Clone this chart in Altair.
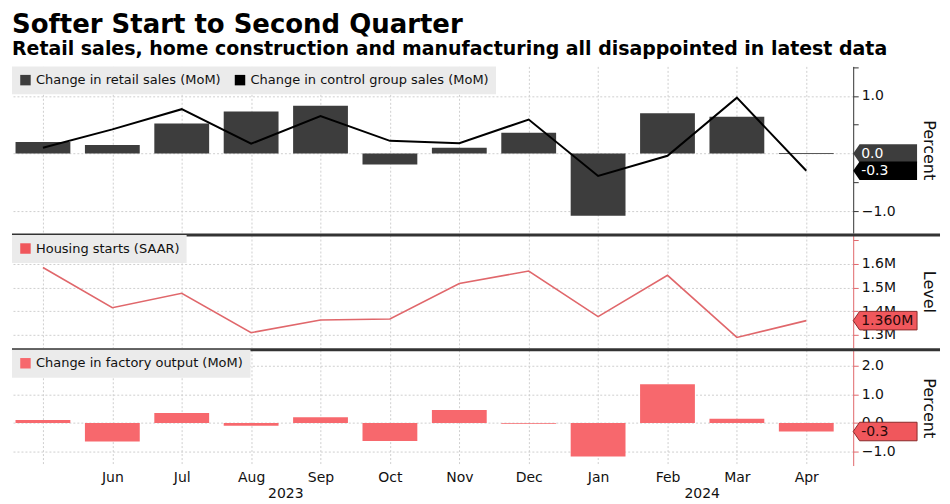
import altair as alt
import pandas as pd

# ---------------- data ----------------
months = ["May", "Jun", "Jul", "Aug", "Sep", "Oct", "Nov", "Dec", "Jan", "Feb", "Mar", "Apr"]
years = ["2023"] * 8 + ["2024"] * 4
retail_sales = [0.2, 0.15, 0.52, 0.73, 0.83, -0.19, 0.1, 0.36, -1.08, 0.7, 0.64, 0.0]
control_group = [0.1, 0.42, 0.77, 0.17, 0.65, 0.22, 0.18, 0.59, -0.39, -0.04, 0.97, -0.3]
housing_starts = [1.585, 1.415, 1.476, 1.309, 1.363, 1.367, 1.517, 1.570, 1.377, 1.552, 1.289, 1.360]
factory_output = [0.1, -0.65, 0.35, -0.1, 0.2, -0.63, 0.45, -0.03, -1.17, 1.35, 0.15, -0.3]

S_RETAIL = "Change in retail sales (MoM)"
S_CONTROL = "Change in control group sales (MoM)"
S_HOUSING = "Housing starts (SAAR)"
S_FACTORY = "Change in factory output (MoM)"

TITLE = "Softer Start to Second Quarter"
SUBTITLE = "Retail sales, home construction and manufacturing all disappointed in latest data"

idx = list(range(len(months)))

retail_df = pd.DataFrame({"i": idx, "value": retail_sales, "series": S_RETAIL})
control_df = pd.DataFrame({"i": idx, "value": control_group, "series": S_CONTROL})
housing_df = pd.DataFrame({"i": idx, "value": housing_starts, "series": S_HOUSING})
factory_df = pd.DataFrame({"i": idx, "value": factory_output, "series": S_FACTORY})

year_df = (pd.DataFrame({"i": idx, "year": years})
           .groupby("year", as_index=False)["i"].mean())


def last_label(values, fmt):
    v = values[-1]
    return pd.DataFrame({"value": [v], "label": [fmt.format(v)]})


# ---------------- style ----------------
FONT = "DejaVu Sans"
W = 843
H_TOP, H_MID, H_BOT = 167, 113, 116
GRID = "#cfcfcf"
DARK = "#3d3d3d"
RED_LINE = "#e0676b"
RED_BAR = "#f7686d"
RED_BOX = "#f0575c"
HALF = 0.395

xscale = alt.Scale(domain=[-0.446, 11.676], nice=False, zero=False)
x_axis_hidden = alt.Axis(values=idx, labels=False, ticks=False, domain=False, grid=True,
                         gridColor=GRID, gridDash=[2, 2], title=None)
label_expr = "datum.value == 0 ? '' : " + str(months) + "[datum.value]"
x_axis_bottom = alt.Axis(values=idx, labelExpr=label_expr, ticks=False, tickSize=0, domain=False,
                         grid=True, gridColor=GRID, gridDash=[2, 2], title=None,
                         labelPadding=5, labelFontSize=14, labelFont=FONT, labelColor="#111")


def legend(**kw):
    return alt.Legend(orient="top-left", direction="horizontal", title=None, fillColor="#ebebeb",
                      padding=7, offset=0, symbolType="square", symbolSize=110, symbolStrokeWidth=0,
                      labelFontSize=13, labelFont=FONT, labelColor="#111", labelLimit=600,
                      columnPadding=12, **kw)


def yaxis(values, label_expr, grid_test, title, color, height):
    return alt.Axis(orient="right", values=values, labelExpr=label_expr,
                    gridOpacity={"condition": {"test": grid_test, "value": 1}, "value": 0},
                    grid=True, gridColor=GRID, gridDash=[2, 2],
                    domainColor=color, tickColor=color, tickSize=5, domainWidth=1,
                    labelFont=FONT, labelFontSize=14, labelColor="#111", labelPadding=3,
                    title=title, titleFont=FONT, titleFontSize=16, titleFontWeight="normal",
                    titleColor="#111", titleAngle=90, titleX=75.5, titleY=height / 2,
                    titleAlign="center", titleBaseline="middle")


BOX_SHAPE = "M-1,0 L-0.8,-0.29 L1,-0.29 L1,0.29 L-0.8,0.29 Z"
BOX_SIZE = 4096
BOX_X = W + 32
TEXT_X = W + 8


def value_box(df, yenc, fill, text_color, stroke=None):
    kw = {"stroke": stroke, "strokeWidth": 1} if stroke else {"strokeWidth": 0}
    box = alt.Chart(df).mark_point(shape=BOX_SHAPE, size=BOX_SIZE, filled=True, fill=fill,
                                   opacity=1, clip=False, **kw).encode(
        x=alt.value(BOX_X), y=yenc)
    txt = alt.Chart(df).mark_text(align="left", baseline="middle", font=FONT, fontSize=14,
                                  color=text_color, clip=False).encode(
        x=alt.value(TEXT_X), y=yenc, text="label:N")
    return box + txt


def separator():
    return alt.Chart(pd.DataFrame({"a": [1]})).mark_rule(color="#333333", strokeWidth=3,
                                                          clip=False).encode(
        x=alt.value(0), x2=alt.value(930), y=alt.value(0))


# ---------------- top panel ----------------
top_y_scale = alt.Scale(domain=[-1.381, 1.513], nice=False, zero=False)
top_y_axis = yaxis([-1, -0.5, 0, 0.5, 1, 1.5],
                   "abs(datum.value) == 1 ? format(datum.value, '.1f') : ''",
                   "abs(datum.value) == 1 || datum.value == 0", "Percent", "#333333", H_TOP)
top_y = alt.Y("value:Q", scale=top_y_scale, axis=top_y_axis)
top_color = alt.Color("series:N", scale=alt.Scale(domain=[S_RETAIL, S_CONTROL], range=[DARK, "#000000"]),
                      legend=legend())

top_bars = alt.Chart(retail_df).mark_bar().transform_calculate(
    x0=f"datum.i - {HALF}", x1=f"datum.i + {HALF}").encode(
    x=alt.X("x0:Q", scale=xscale, axis=x_axis_hidden), x2="x1:Q", y=top_y, y2=alt.datum(0),
    color=top_color)
# zero-valued months still show a hairline at 0
top_zero = alt.Chart(retail_df).mark_rule(color="#555555", strokeWidth=1).transform_filter(
    "datum.value == 0").transform_calculate(
    x0=f"datum.i - {HALF}", x1=f"datum.i + {HALF}").encode(
    x=alt.X("x0:Q", scale=xscale, axis=x_axis_hidden), x2="x1:Q", y=top_y)
top_line = alt.Chart(control_df).mark_line(strokeWidth=2).encode(
    x=alt.X("i:Q", scale=xscale, axis=x_axis_hidden), y=top_y, color=top_color)

top = alt.layer(
    top_bars, top_zero, top_line,
    value_box(last_label(retail_sales, "{:.1f}"), top_y, DARK, "white"),
    value_box(last_label(control_group, "{:.1f}"), top_y, "#000000", "white"),
).properties(width=W, height=H_TOP)

# ---------------- middle panel ----------------
mid_y_scale = alt.Scale(domain=[1.245, 1.7225], nice=False, zero=False)
mid_y_axis = yaxis([1.3, 1.4, 1.5, 1.6, 1.7],
                   "datum.value > 1.65 ? '' : format(datum.value, '.1f') + 'M'",
                   "datum.value < 1.65", "Level", RED_LINE, H_MID)
mid_y = alt.Y("value:Q", scale=mid_y_scale, axis=mid_y_axis)
mid_color = alt.Color("series:N", scale=alt.Scale(domain=[S_HOUSING], range=[RED_LINE]),
                      legend=legend(symbolFillColor=RED_BOX))
mid_line = alt.Chart(housing_df).mark_line(strokeWidth=1.6).encode(
    x=alt.X("i:Q", scale=xscale, axis=x_axis_hidden), y=mid_y, color=mid_color)

mid = alt.layer(
    mid_line,
    value_box(last_label(housing_starts, "{:.3f}M"), mid_y, RED_BOX, "#2a0a0a", stroke="#8a2a2a"),
    separator(),
).properties(width=W, height=H_MID)

# ---------------- bottom panel ----------------
bot_y_scale = alt.Scale(domain=[-1.49, 2.557], nice=False, zero=False)
bot_y_axis = yaxis([-1, 0, 1, 2], "format(datum.value, '.1f')", "true", "Percent", RED_LINE, H_BOT)
bot_y = alt.Y("value:Q", scale=bot_y_scale, axis=bot_y_axis)
bot_color = alt.Color("series:N", scale=alt.Scale(domain=[S_FACTORY], range=[RED_BAR]),
                      legend=legend())
bot_bars = alt.Chart(factory_df).mark_bar().transform_calculate(
    x0=f"datum.i - {HALF}", x1=f"datum.i + {HALF}").encode(
    x=alt.X("x0:Q", scale=xscale, axis=x_axis_bottom), x2="x1:Q", y=bot_y, y2=alt.datum(0),
    color=bot_color)
year_text = alt.Chart(year_df).mark_text(font=FONT, fontSize=14, color="#111", baseline="middle",
                                         clip=False).encode(
    x=alt.X("i:Q", scale=xscale, axis=x_axis_bottom), y=alt.value(H_BOT + 29), text="year:N")

bot = alt.layer(
    bot_bars, year_text,
    value_box(last_label(factory_output, "{:.1f}"), bot_y, RED_BOX, "#2a0a0a", stroke="#8a2a2a"),
    separator(),
).properties(width=W, height=H_BOT)

chart = alt.vconcat(top, mid, bot, spacing=0).resolve_scale(
    color="independent", y="independent").resolve_legend(color="independent").properties(
    title=alt.TitleParams(text=TITLE, subtitle=SUBTITLE, anchor="start", frame="group",
                          font=FONT, fontSize=26, fontWeight="bold", color="#000",
                          subtitleFont=FONT, subtitleFontSize=19, subtitleFontWeight="bold",
                          subtitleColor="#000", subtitlePadding=2, offset=7.5),
    padding={"left": 2, "top": 3, "right": 0, "bottom": 0},
    background="white",
).configure_view(stroke=None)

chart.save("out.html", embed_options={"renderer": "svg", "actions": False})
